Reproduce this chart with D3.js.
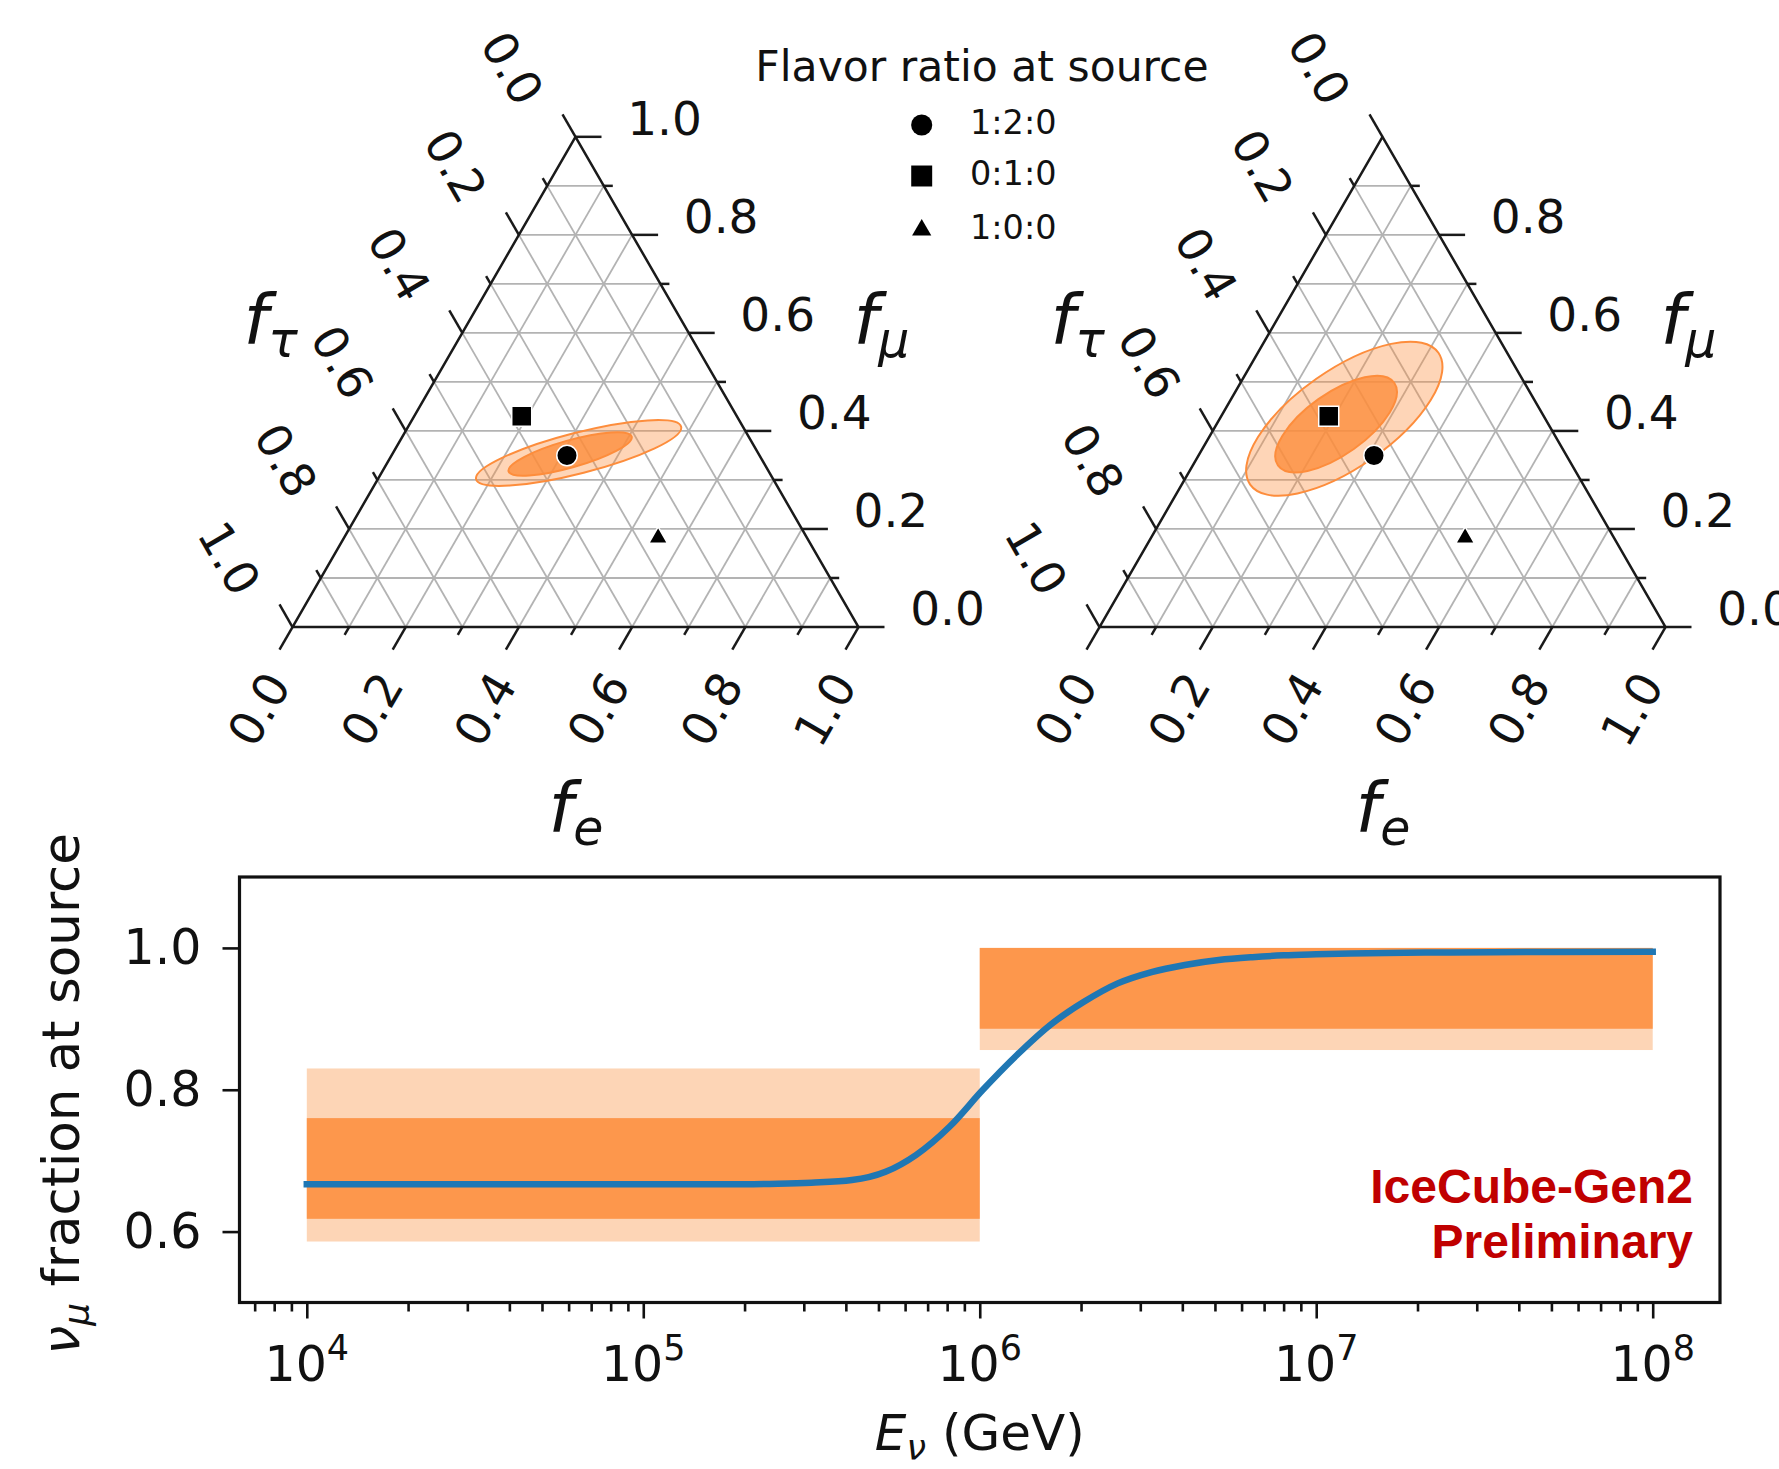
<!DOCTYPE html>
<html>
<head>
<meta charset="utf-8">
<script src="https://cdn.jsdelivr.net/npm/d3@7"></script>
<style>
  body { margin: 0; background: #fff; }
  svg { display: block; font-family: "DejaVu Sans", sans-serif; }
</style>
</head>
<body>
<div id="chart"></div>
<script>
// ---- values ----

// flavour ratio at the source and where it ends up at Earth (f_tau = 1 - f_e - f_mu)
const sourceRatios = ["1:2:0", "0:1:0", "1:0:0"];
const sourceSymbols = [d3.symbolCircle, d3.symbolSquare, d3.symbolTriangle];
const earthFe = [0.31, 0.19, 0.555];
const earthFmu = [0.35, 0.43, 0.182];

// measured contours, one row per triangle panel: [outer (light), inner (dark)]
const contourFe = [[0.328, 0.314], [0.220, 0.211]];
const contourFmu = [[0.355, 0.353], [0.425, 0.414]];
const contourMajor = [[0.187, 0.113], [0.203, 0.126]];  // semi axes, in triangle side units
const contourMinor = [[0.036, 0.024], [0.086, 0.054]];
const contourTilt = [[14.4, 15.8], [35.0, 35.4]];       // degrees above horizontal

const ternTicks = d3.range(0, 11).map(i => i / 10);

// lower panel: nu_mu fraction at source vs energy
const energy = [1e4, 3.16e4, 1e5, 2.0e5, 2.51e5, 3.16e5, 4.17e5, 5.25e5, 6.46e5, 8.13e5,
    1.02e6, 1.29e6, 1.62e6, 2.04e6, 2.57e6, 3.24e6, 4.07e6, 5.13e6, 6.46e6, 8.0e6,
    1e7, 1.26e7, 1.6e7, 2.5e7, 5e7, 1e8];
const muFraction = [0.6667, 0.6667, 0.6667, 0.6668, 0.6675, 0.669, 0.6726, 0.6843, 0.7079, 0.7478,
    0.7996, 0.849, 0.8913, 0.924, 0.950, 0.966, 0.976, 0.983, 0.987, 0.9895,
    0.991, 0.9922, 0.993, 0.9937, 0.9942, 0.9945];

const bandFrom = [1e4, 1e6];
const bandTo = [1e6, 1e8];
const band95Low = [0.586, 0.856], band95High = [0.830, 1.0];
const band68Low = [0.618, 0.886], band68High = [0.760, 1.0];

const xTickExp = [4, 5, 6, 7, 8];
const yTicks = [0.6, 0.8, 1.0];

// ---- layout ----
const W = 1779, H = 1469;
const lightOrange = "#fdd5b6", darkOrange = "#fd974c", edgeOrange = "#fd8d3c";

const svg = d3.select("#chart").append("svg")
    .attr("width", W)
    .attr("height", H);

// one ternary panel
function drawTernary(bl, side, panel, showTopRightTick) {
    const h = side * Math.sqrt(3) / 2;
    const xs = d3.scaleLinear().domain([0, 1]).range([bl[0], bl[0] + side]);
    const ys = d3.scaleLinear().domain([0, 1]).range([bl[1], bl[1] - h]);
    const P = (fe, fmu) => [xs(fe + fmu / 2), ys(fmu)];
    const g = svg.append("g");

    // grid every 0.1
    const inner = ternTicks.slice(1, 10);
    const gridLines = [];
    inner.forEach(k => {
        gridLines.push([P(0, k), P(1 - k, k)]);       // const f_mu
        gridLines.push([P(k, 0), P(k, 1 - k)]);       // const f_e
        gridLines.push([P(1 - k, 0), P(0, 1 - k)]);   // const f_tau
    });
    g.selectAll(".grid").data(gridLines).enter().append("line")
        .attr("x1", d => d[0][0]).attr("y1", d => d[0][1])
        .attr("x2", d => d[1][0]).attr("y2", d => d[1][1])
        .attr("stroke", "#b3b3b3")
        .attr("stroke-width", 1.8);

    // contours (outer first)
    [0, 1].forEach(j => {
        const c = P(contourFe[panel][j], contourFmu[panel][j]);
        g.append("ellipse")
            .attr("transform", `translate(${c[0]},${c[1]}) rotate(${-contourTilt[panel][j]})`)
            .attr("rx", contourMajor[panel][j] * side)
            .attr("ry", contourMinor[panel][j] * side)
            .attr("fill", edgeOrange)
            .attr("fill-opacity", j === 0 ? 0.37 : 0.8)
            .attr("stroke", edgeOrange)
            .attr("stroke-width", 2);
    });

    // frame
    g.append("path")
        .attr("d", d3.line()([P(0, 0), P(1, 0), P(0, 1)]) + "Z")
        .attr("fill", "none")
        .attr("stroke", "#1a1a1a")
        .attr("stroke-width", 2.5)
        .attr("stroke-linejoin", "round");

    // ticks
    const c60 = 0.5, s60 = Math.sqrt(3) / 2;
    const tickLen = t => (Math.round(t * 10) % 2 === 0 ? 26 : 9);
    const ticks = [];
    ternTicks.forEach(t => {
        const L = tickLen(t);
        const b = P(t, 0);
        ticks.push([b, [b[0] - c60 * L, b[1] + s60 * L]]);
        if (showTopRightTick || t < 0.95) {
            const r = P(1 - t, t);
            ticks.push([r, [r[0] + L, r[1]]]);
        }
        const l = P(0, 1 - t);
        ticks.push([l, [l[0] - c60 * L, l[1] - s60 * L]]);
    });
    g.selectAll(".tick").data(ticks).enter().append("line")
        .attr("x1", d => d[0][0]).attr("y1", d => d[0][1])
        .attr("x2", d => d[1][0]).attr("y2", d => d[1][1])
        .attr("stroke", "#1a1a1a")
        .attr("stroke-width", 2.5);

    // tick labels every 0.2
    const major = ternTicks.filter(t => Math.round(t * 10) % 2 === 0);
    const fmt = d3.format(".1f");
    function label(x, y, rot, txt) {
        g.append("text")
            .attr("transform", `translate(${x},${y}) rotate(${rot})`)
            .attr("text-anchor", "middle")
            .attr("dy", "0.36em")
            .attr("font-size", 47)
            .attr("fill", "#111")
            .text(txt);
    }
    major.forEach(t => {
        const b = P(t, 0);
        label(b[0] - 34, b[1] + 82, -60, fmt(t));
        if (showTopRightTick || t < 0.95) {
            const r = P(1 - t, t);
            label(r[0] + 89, r[1] - 19, 0, fmt(t));
        }
        const l = P(0, 1 - t);
        label(l[0] - 63, l[1] - 69, 60, fmt(t));
    });

    // source markers
    sourceRatios.forEach((s, i) => {
        const p = P(earthFe[i], earthFmu[i]);
        g.append("path")
            .attr("transform", `translate(${p[0]},${p[1]})`)
            .attr("d", d3.symbol().type(sourceSymbols[i]).size([330, 400, 155][i])())
            .attr("fill", "#000")
            .attr("stroke", "#fff")
            .attr("stroke-width", 1.5);
    });

    // axis names
    function axisName(x, y, sub) {
        const t = g.append("text")
            .attr("x", x).attr("y", y)
            .attr("font-size", 70)
            .attr("font-style", "italic")
            .attr("fill", "#111");
        t.append("tspan").text("f");
        t.append("tspan").attr("font-size", 49).attr("dy", 13).text(sub);
    }
    const top = P(0, 1), br = P(1, 0);
    axisName(bl[0] - 49, top[1] + 207, "τ");
    axisName(br[0] - 5, top[1] + 207, "μ");
    axisName(top[0] - 27, bl[1] + 205, "e");
}

drawTernary([292.5, 627], 566, 0, true);
drawTernary([1099.5, 627], 566, 1, false);

// legend
const legend = svg.append("g");
legend.append("text")
    .attr("x", 982).attr("y", 81)
    .attr("text-anchor", "middle")
    .attr("font-size", 42.5)
    .attr("fill", "#111")
    .text("Flavor ratio at source");
const legendY = [125, 176, 230];
sourceRatios.forEach((s, i) => {
    legend.append("path")
        .attr("transform", `translate(921.7,${legendY[i]})`)
        .attr("d", d3.symbol().type(sourceSymbols[i]).size([350, 440, 160][i])())
        .attr("fill", "#000");
    legend.append("text")
        .attr("x", 970).attr("y", legendY[i] + 8.5)
        .attr("font-size", 33.5)
        .attr("fill", "#111")
        .text(s);
});

// ---- lower panel ----
const ax = {left: 239.5, right: 1720, top: 877, bottom: 1302.5};
const x = d3.scaleLog().domain([Math.pow(10, 3.8), Math.pow(10, 8.2)]).range([ax.left, ax.right]);
const y = d3.scaleLinear().domain([0.5, 1.1]).range([ax.bottom, ax.top]);

const plot = svg.append("g");

bandFrom.forEach((e0, i) => {
    plot.append("rect")
        .attr("x", x(e0)).attr("width", x(bandTo[i]) - x(e0))
        .attr("y", y(band95High[i])).attr("height", y(band95Low[i]) - y(band95High[i]))
        .attr("fill", lightOrange);
    plot.append("rect")
        .attr("x", x(e0)).attr("width", x(bandTo[i]) - x(e0))
        .attr("y", y(band68High[i])).attr("height", y(band68Low[i]) - y(band68High[i]))
        .attr("fill", darkOrange);
});

const line = d3.line()
    .x((d, i) => x(energy[i]))
    .y(d => y(d))
    .curve(d3.curveMonotoneX);
plot.append("path")
    .attr("d", line(muFraction))
    .attr("fill", "none")
    .attr("stroke", "#1f77b4")
    .attr("stroke-width", 6.5)
    .attr("stroke-linecap", "square");

// minor log ticks
const minor = [];
[3, 4, 5, 6, 7, 8].forEach(e => {
    d3.range(2, 10).forEach(m => {
        const v = m * Math.pow(10, e);
        if (v > x.domain()[0] && v < x.domain()[1]) minor.push(v);
    });
});

const xAxis = d3.axisBottom(x)
    .tickValues(xTickExp.map(e => Math.pow(10, e)))
    .tickSize(16)
    .tickFormat("");
const xMinor = d3.axisBottom(x).tickValues(minor).tickSize(9).tickFormat("");
const yAxis = d3.axisLeft(y).tickValues(yTicks).tickSize(17).tickPadding(21)
    .tickFormat(d3.format(".1f"));

function styleAxis(sel) {
    sel.select(".domain").remove();
    sel.selectAll(".tick line").attr("stroke", "#111").attr("stroke-width", 2.6);
    sel.selectAll(".tick text").attr("font-size", 49).attr("fill", "#111")
        .attr("font-family", "DejaVu Sans");
}

plot.append("g").attr("transform", `translate(0,${ax.bottom})`).call(xMinor).call(styleAxis);
plot.append("g").attr("transform", `translate(0,${ax.bottom})`).call(xAxis).call(styleAxis);
plot.append("g").attr("transform", `translate(${ax.left},0)`).call(yAxis).call(styleAxis);

// 10^n labels
xTickExp.forEach(e => {
    const t = plot.append("text")
        .attr("x", x(Math.pow(10, e))).attr("y", 1381)
        .attr("text-anchor", "middle")
        .attr("font-size", 49)
        .attr("fill", "#111");
    t.append("tspan").text("10");
    t.append("tspan").attr("font-size", 35).attr("dy", -21).text(e);
});

plot.append("rect")
    .attr("x", ax.left).attr("y", ax.top)
    .attr("width", ax.right - ax.left).attr("height", ax.bottom - ax.top)
    .attr("fill", "none")
    .attr("stroke", "#111")
    .attr("stroke-width", 3.2);

// axis titles
const xl = plot.append("text")
    .attr("x", (ax.left + ax.right) / 2).attr("y", 1450)
    .attr("text-anchor", "middle")
    .attr("font-size", 50)
    .attr("fill", "#111");
xl.append("tspan").attr("font-style", "italic").text("E");
xl.append("tspan").attr("font-style", "italic").attr("font-size", 35).attr("dy", 10).text("ν");
xl.append("tspan").attr("dy", -10).text(" (GeV)");

const yl = plot.append("text")
    .attr("transform", `translate(79,${(ax.top + ax.bottom) / 2 + 4}) rotate(-90)`)
    .attr("text-anchor", "middle")
    .attr("font-size", 51.5)
    .attr("fill", "#111");
yl.append("tspan").attr("font-style", "italic").text("ν");
yl.append("tspan").attr("font-style", "italic").attr("font-size", 36).attr("dy", 10).text("μ");
yl.append("tspan").attr("dy", -10).text(" fraction at source");

// watermark
const wm = plot.append("text")
    .attr("text-anchor", "end")
    .attr("font-family", "Liberation Sans, Arial, sans-serif")
    .attr("font-weight", "bold")
    .attr("font-size", 48)
    .attr("fill", "#c00000");
wm.append("tspan").attr("x", 1693).attr("y", 1203).text("IceCube-Gen2");
wm.append("tspan").attr("x", 1693).attr("y", 1258).text("Preliminary");
</script>
</body>
</html>
